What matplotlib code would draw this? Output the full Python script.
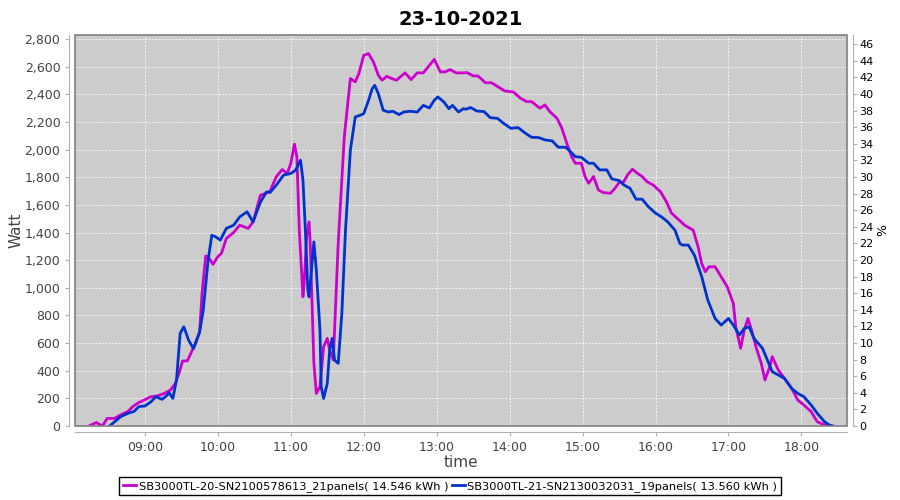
import pandas as pd
import numpy as np
import matplotlib
matplotlib.use("Agg")
import matplotlib.pyplot as plt
import matplotlib.dates as mdates
from matplotlib.ticker import FuncFormatter, MultipleLocator
from matplotlib.patches import Rectangle

# data (time, Watt)
t_sb20 = ["08:14", "08:20", "08:25", "08:29", "08:35", "08:40", "08:46", "08:50", "08:55", "09:00",
          "09:05", "09:10", "09:16", "09:21", "09:25", "09:28", "09:31", "09:35", "09:39", "09:41",
          "09:45", "09:47", "09:50", "09:52", "09:56", "10:00", "10:03", "10:07", "10:13", "10:18",
          "10:22", "10:25", "10:29", "10:35", "10:39", "10:43", "10:48", "10:53", "10:57", "11:00",
          "11:03", "11:05", "11:07", "11:10", "11:11", "11:13", "11:15", "11:16", "11:19", "11:21",
          "11:24", "11:27", "11:30", "11:32", "11:35", "11:36", "11:39", "11:44", "11:49", "11:53",
          "11:56", "12:00", "12:04", "12:08", "12:12", "12:15", "12:19", "12:23", "12:27", "12:34",
          "12:39", "12:44", "12:49", "12:53", "12:58", "13:03", "13:07", "13:11", "13:16", "13:22",
          "13:25", "13:30", "13:34", "13:40", "13:45", "13:51", "13:56", "14:03", "14:09", "14:14",
          "14:18", "14:25", "14:29", "14:33", "14:39", "14:43", "14:47", "14:51", "14:54", "14:59",
          "15:02", "15:05", "15:09", "15:13", "15:17", "15:23", "15:26", "15:30", "15:34", "15:37",
          "15:41", "15:45", "15:49", "15:53", "15:58", "16:04", "16:09", "16:13", "16:18", "16:24",
          "16:31", "16:35", "16:38", "16:41", "16:44", "16:49", "16:54", "16:59", "17:04", "17:06",
          "17:10", "17:13", "17:16", "17:19", "17:23", "17:27", "17:30", "17:34", "17:36", "17:41",
          "17:46", "17:52", "17:57", "18:02", "18:08", "18:13", "18:19", "18:22"]
w_sb20 = [0, 25, 0, 55, 55, 80, 105, 140, 170, 190,
          212, 217, 236, 260, 308, 380, 470, 472, 550, 585,
          680, 960, 1230, 1225, 1170, 1225, 1250, 1357, 1400, 1453,
          1440, 1430, 1477, 1670, 1682, 1700, 1803, 1856, 1827, 1900,
          2039, 1947, 1417, 935, 1031, 1369, 1477, 1320, 453, 236,
          284, 574, 634, 550, 477, 694, 1320, 2092, 2514, 2490,
          2550, 2682, 2694, 2634, 2538, 2502, 2530, 2514, 2502, 2555,
          2506, 2555, 2555, 2598, 2653, 2562, 2562, 2579, 2555, 2555,
          2557, 2533, 2533, 2484, 2484, 2451, 2424, 2417, 2371, 2347,
          2347, 2299, 2323, 2275, 2226, 2154, 2046, 1949, 1901, 1901,
          1805, 1756, 1805, 1708, 1689, 1684, 1713, 1761, 1768, 1817,
          1858, 1829, 1805, 1768, 1744, 1696, 1622, 1542, 1501, 1453,
          1417, 1297, 1176, 1116, 1152, 1152, 1080, 1007, 887, 718,
          562, 694, 778, 694, 562, 453, 333, 429, 501, 405,
          345, 272, 188, 152, 104, 31, 7, 0]

t_sb21 = ["08:31", "08:35", "08:40", "08:46", "08:51", "08:55", "09:00", "09:05", "09:09", "09:14",
          "09:17", "09:20", "09:23", "09:26", "09:29", "09:32", "09:36", "09:40", "09:45", "09:48",
          "09:52", "09:55", "09:58", "10:02", "10:07", "10:13", "10:18", "10:24", "10:29", "10:35",
          "10:40", "10:43", "10:48", "10:54", "11:00", "11:04", "11:08", "11:10", "11:12", "11:14",
          "11:15", "11:17", "11:19", "11:21", "11:24", "11:25", "11:27", "11:30", "11:32", "11:34",
          "11:36", "11:39", "11:42", "11:45", "11:49", "11:53", "11:57", "12:00", "12:04", "12:07",
          "12:09", "12:12", "12:16", "12:20", "12:24", "12:29", "12:33", "12:38", "12:44", "12:49",
          "12:54", "12:58", "13:01", "13:06", "13:10", "13:13", "13:18", "13:22", "13:24", "13:28",
          "13:33", "13:39", "13:44", "13:50", "13:55", "14:01", "14:07", "14:13", "14:18", "14:24",
          "14:29", "14:35", "14:40", "14:46", "14:50", "14:54", "14:59", "15:05", "15:09", "15:14",
          "15:20", "15:24", "15:30", "15:34", "15:39", "15:44", "15:49", "15:54", "16:00", "16:05",
          "16:10", "16:16", "16:20", "16:22", "16:27", "16:32", "16:38", "16:43", "16:49", "16:54",
          "17:00", "17:04", "17:09", "17:13", "17:17", "17:21", "17:28", "17:32", "17:36", "17:41",
          "17:46", "17:52", "17:57", "18:02", "18:08", "18:13", "18:19", "18:23", "18:26"]
w_sb21 = [0, 30, 67, 92, 105, 140, 145, 175, 212, 193,
          212, 240, 200, 333, 670, 718, 620, 560, 680, 840,
          1200, 1380, 1370, 1345, 1430, 1453, 1513, 1550, 1477, 1620,
          1693, 1690, 1742, 1815, 1827, 1851, 1923, 1779, 1417, 983,
          935, 1128, 1332, 1128, 694, 284, 200, 308, 550, 634,
          477, 453, 815, 1417, 1995, 2236, 2248, 2260, 2357, 2441,
          2465, 2405, 2285, 2272, 2277, 2253, 2272, 2277, 2272, 2320,
          2301, 2357, 2381, 2344, 2296, 2320, 2272, 2296, 2292, 2304,
          2279, 2275, 2231, 2226, 2190, 2154, 2159, 2118, 2089, 2087,
          2070, 2063, 2017, 2017, 1986, 1949, 1944, 1901, 1901, 1853,
          1853, 1788, 1776, 1744, 1720, 1641, 1641, 1588, 1540, 1513,
          1477, 1417, 1321, 1309, 1309, 1236, 1080, 911, 778, 730,
          778, 730, 658, 706, 718, 634, 562, 477, 393, 369,
          345, 272, 236, 212, 152, 92, 31, 7, 0]

name_sb20 = "SB3000TL-20-SN2100578613_21panels( 14.546 kWh )"
name_sb21 = "SB3000TL-21-SN2130032031_19panels( 13.560 kWh )"
day = "2021-10-23"

x20 = pd.to_datetime([day + " " + t for t in t_sb20])
x21 = pd.to_datetime([day + " " + t for t in t_sb21])

fig = plt.figure(figsize=(9, 5), dpi=100)
ax = fig.add_axes([75 / 900, 74 / 500, 772 / 900, 391 / 500])
ax.set_facecolor("#cccccc")

ax.plot(x20, w_sb20, color="#cc00cc", lw=2, label=name_sb20, zorder=3)
ax.plot(x21, w_sb21, color="#0033cc", lw=2, label=name_sb21, zorder=3)

ax.set_xlim(pd.Timestamp(day + " 08:02:30"), pd.Timestamp(day + " 18:37:30"))
ax.set_ylim(0, 2829)
ax.yaxis.set_major_locator(MultipleLocator(200))
ax.yaxis.set_major_formatter(FuncFormatter(lambda v, p: f"{v:,.0f}"))
ax.xaxis.set_major_locator(mdates.HourLocator())
ax.xaxis.set_major_formatter(mdates.DateFormatter("%H:%M"))
ax.grid(True, color="white", ls=(0, (2, 2)), lw=0.6)
ax.set_axisbelow(True)

for s in ["top", "right"]:
    ax.spines[s].set_visible(False)
for s in ["left", "bottom"]:
    ax.spines[s].set_position(("outward", 4))
    ax.spines[s].set_color("#b0b0b0")
ax.add_patch(Rectangle((0, 0), 1, 1, transform=ax.transAxes, fill=False,
                       ec="#808080", lw=1.2, zorder=5, clip_on=False))
ax.tick_params(colors="#b0b0b0", labelcolor="#444444", labelsize=9, length=3)

ax.set_ylabel("Watt", fontsize=11, color="#444444", labelpad=1)
ax.set_xlabel("time", fontsize=11, color="#444444", labelpad=1)
ax.set_title("23-10-2021", fontsize=14, fontweight="bold", pad=7)

# right axis (percent), nothing drawn on it
ax2 = ax.twinx()
ax2.set_ylim(0, 47.1)
ax2.yaxis.set_major_locator(MultipleLocator(2))
for s in ["top", "left", "bottom"]:
    ax2.spines[s].set_visible(False)
ax2.spines["right"].set_position(("outward", 4))
ax2.spines["right"].set_color("#b0b0b0")
ax2.tick_params(colors="#b0b0b0", labelcolor="black", labelsize=8, length=3, pad=2)
ax2.set_ylabel("%", fontsize=9, labelpad=2)

fig.legend(loc="lower center", bbox_to_anchor=(0.5, 0.005), ncol=2, fontsize=8.2,
           frameon=True, fancybox=False, edgecolor="black", framealpha=1,
           handlelength=1.2, handletextpad=0.2, columnspacing=0.3,
           borderpad=0.3, borderaxespad=0.2)

fig.savefig("out.png", dpi=100)
